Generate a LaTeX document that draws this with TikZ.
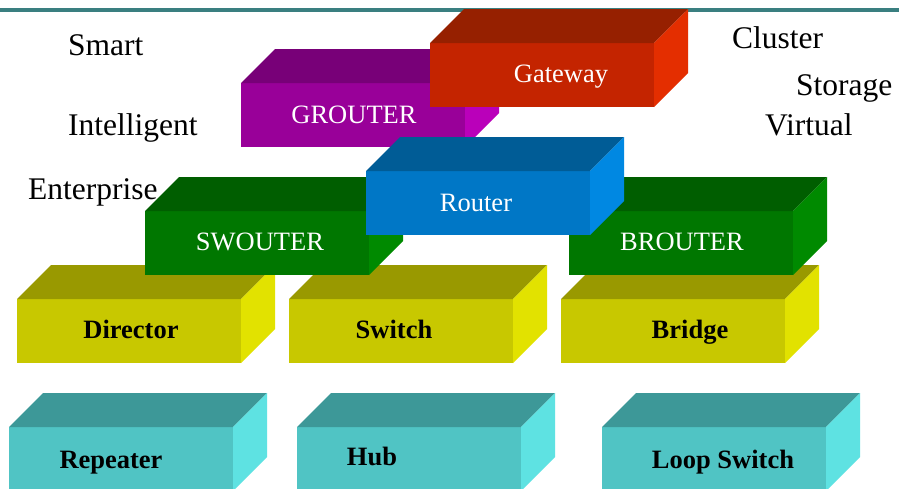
\documentclass[tikz,border=0pt]{standalone}
\usepackage{fontspec}
\setmainfont{Liberation Serif}
\usepackage{xcolor}
\usepackage{tikz}
\usetikzlibrary{positioning}

\definecolor{rulecol}{HTML}{3A7F80}
\definecolor{purfront}{HTML}{990099}
\definecolor{purtop}{HTML}{780078}
\definecolor{purside}{HTML}{BA00BA}
\definecolor{redfront}{HTML}{C42400}
\definecolor{redtop}{HTML}{962000}
\definecolor{redside}{HTML}{E42E00}
\definecolor{blufront}{HTML}{0077C6}
\definecolor{blutop}{HTML}{005C96}
\definecolor{bluside}{HTML}{0088E2}
\definecolor{grnfront}{HTML}{007700}
\definecolor{grntop}{HTML}{005E00}
\definecolor{grnside}{HTML}{008A00}
\definecolor{yelfront}{HTML}{C8C800}
\definecolor{yeltop}{HTML}{999900}
\definecolor{yelside}{HTML}{E2E200}
\definecolor{cyafront}{HTML}{50C4C4}
\definecolor{cyatop}{HTML}{3D9898}
\definecolor{cyaside}{HTML}{5EE2E2}

% slab: name, x, y (front top left), colour prefix, label dx, label dy, label style, text
\newcommand{\slab}[8]{%
  \fill[#4front] (#2,#3) rectangle ++(224,64);
  \fill[#4top] (#2,#3) -- ++(34,-34) -- ++(224,0) -- ++(-34,34) -- cycle;
  \fill[#4side] (#2+224,#3) -- ++(34,-34) -- ++(0,64) -- ++(-34,34) -- cycle;
  \node[#7,anchor=base] (#1) at (#2+#5,#3+#6) {#8};
}

\begin{document}
\begin{tikzpicture}[x=1pt,y=-1pt,
  upper/.style={text=white,inner sep=0pt,font=\fontsize{26.5}{30}\selectfont},
  lower/.style={text=black,inner sep=0pt,font=\fontsize{26.5}{30}\selectfont\bfseries},
  side/.style={anchor=base west,inner sep=0pt,font=\fontsize{31.5}{36}\selectfont}
]
\useasboundingbox (0,0) rectangle (899,488);
\clip (0,0) rectangle (899,488);
\fill[white] (0,0) rectangle (899,488);
\draw[rulecol,line width=3.4pt] (0,10) -- (899,10);

% bottom row
\slab{repeater}{9}{427}{cya}{102}{41}{lower}{Repeater}
\slab{hub}{297}{427}{cya}{75}{38}{lower}{Hub}
\slab{loopsw}{602}{427}{cya}{121}{41}{lower}{Loop Switch}
% second row
\slab{director}{17}{299}{yel}{114}{39}{lower}{Director}
\slab{switch}{289}{299}{yel}{105}{39}{lower}{Switch}
\slab{bridge}{561}{299}{yel}{129}{39}{lower}{Bridge}
% third row
\slab{swouter}{145}{211}{grn}{115}{39}{upper}{SWOUTER}
\slab{brouter}{569}{211}{grn}{113}{39}{upper}{BROUTER}
% top
\slab{grouter}{241}{83}{pur}{113}{40}{upper}{GROUTER}
\slab{gateway}{430}{43}{red}{131}{39}{upper}{Gateway}
\slab{router}{366}{171}{blu}{110}{40}{upper}{Router}

% side words
\node[side] (smart) at (68,55) {Smart};
\node[side] (intel) at (68,135) {Intelligent};
\node[side] (enter) at (28,199) {Enterprise};
\node[side] (cluster) at (732,48) {Cluster};
\node[side] (storage) at (796,95) {Storage};
\node[side] (virtual) at (765,135) {Virtual};
\end{tikzpicture}
\end{document}
